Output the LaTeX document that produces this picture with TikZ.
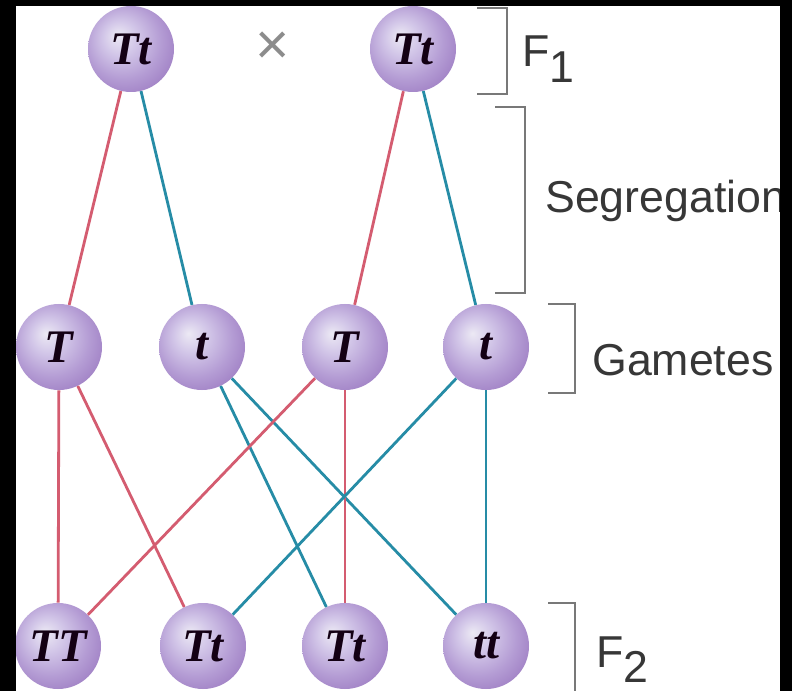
\documentclass[tikz,border=0pt]{standalone}
\usepackage{fontspec}
\setmainfont{Liberation Sans}
\newfontfamily\ballfont{Liberation Serif}
\definecolor{bzero}{RGB}{236,233,244}
\definecolor{bone}{RGB}{210,198,232}
\definecolor{btwo}{RGB}{180,156,212}
\definecolor{bthree}{RGB}{154,120,192}
\definecolor{redline}{RGB}{212,92,112}
\definecolor{blueline}{RGB}{38,140,166}
\definecolor{brk}{RGB}{120,120,120}
\definecolor{lbl}{RGB}{55,55,55}
\pgfdeclareradialshading{gball}{\pgfpoint{-8bp}{8bp}}{color(0bp)=(bzero); color(10bp)=(bone); color(22bp)=(btwo); color(34bp)=(bthree); color(50bp)=(bthree)}
\tikzset{
  ballnode/.style={circle, minimum size=64.5pt, inner sep=0pt, shading=gball,
    font=\ballfont\bfseries\itshape\fontsize{35}{35}\selectfont, text=black!85!violet},
  rline/.style={draw=redline, line width=2.1pt},
  bline/.style={draw=blueline, line width=2.1pt},
  bracket/.style={draw=brk, line width=2pt},
  label/.style={font=\fontsize{33.5}{33.5}\selectfont, text=lbl, inner sep=0pt, anchor=base west}
}
\begin{document}
\begin{tikzpicture}[x=0.75pt, y=-0.75pt]
\useasboundingbox (0,0) rectangle (792,691);
\fill[white] (0,0) rectangle (792,691);
% nodes
\node[ballnode] (p1) at (131,49) {Tt};
\node[ballnode] (p2) at (413,49) {Tt};
\node[font=\fontsize{44}{44}\selectfont, text=black!45] (cross) at (273,48) {×};
\node[ballnode] (g1) at (59,347) {T};
\node[ballnode] (g2) at (202,347) {t};
\node[ballnode] (g3) at (345,347) {T};
\node[ballnode] (g4) at (486,347) {t};
\node[ballnode] (c1) at (58,646) {TT};
\node[ballnode] (c2) at (203,646) {Tt};
\node[ballnode] (c3) at (345,646) {Tt};
\node[ballnode] (c4) at (486,646) {tt};
% connectors
\draw[rline] (p1) -- (g1);
\draw[bline] (p1) -- (g2);
\draw[rline] (p2) -- (g3);
\draw[bline] (p2) -- (g4);
\draw[rline] (g1) -- (c1);
\draw[rline] (g1) -- (c2);
\draw[bline] (g2) -- (c3);
\draw[bline] (g2) -- (c4);
\draw[rline] (g3) -- (c1);
\draw[rline] (g3) -- (c3);
\draw[bline] (g4) -- (c2);
\draw[bline] (g4) -- (c4);
% brackets
\draw[bracket] (477,8) -- (507,8) -- (507,94) -- (477,94);
\draw[bracket] (495,107) -- (525,107) -- (525,293) -- (495,293);
\draw[bracket] (548,304) -- (575,304) -- (575,393) -- (548,393);
\draw[bracket] (548,603) -- (575,603) -- (575,691);
% labels
\node[label] (f1) at (522,67) {F\raisebox{-0.34em}{1}};
\node[label] (seg) at (545,213) {Segregation};
\node[label] (gam) at (592,376) {Gametes};
\node[label] (f2) at (596,667) {F\raisebox{-0.34em}{2}};
% black frame
\fill[black] (0,0) rectangle (16,691);
\fill[black] (0,0) rectangle (792,6);
\fill[black] (780,0) rectangle (792,691);
\end{tikzpicture}
\end{document}
